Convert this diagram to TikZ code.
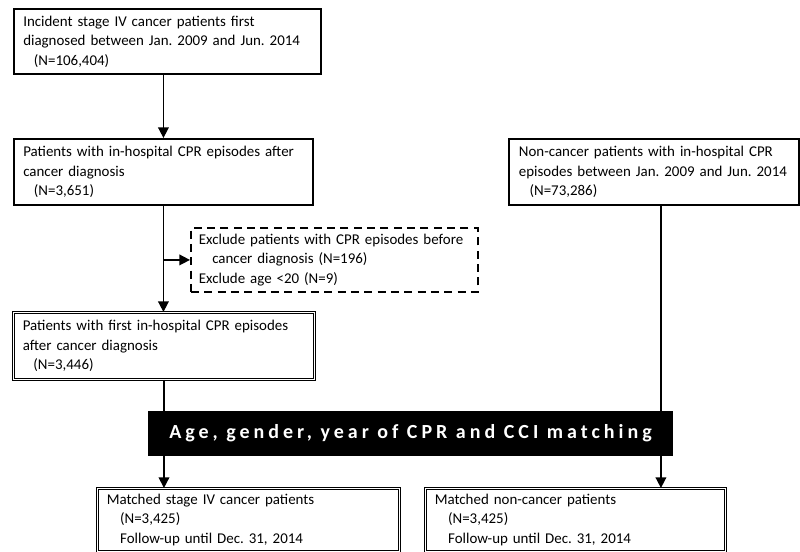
\documentclass[tikz,border=0pt]{standalone}
\usepackage{fontspec}
\setmainfont{Carlito}
\newfontfamily\barfont[LetterSpace=20]{Carlito}
\usetikzlibrary{arrows.meta}
\frenchspacing
\hyphenpenalty=10000
\begin{document}
\begin{tikzpicture}[x=0.75pt, y=-0.75pt, >={Triangle[length=8pt,width=8pt]},
    every node/.style={font=\fontsize{11.2}{14.6}\selectfont},
    box/.style={draw, line width=1.4pt, anchor=north west, align=left, inner xsep=7pt, inner ysep=0pt},
    dbox/.style={box, line width=0.7pt, double, double distance=1.4pt},
    exbox/.style={box, dash pattern=on 6pt off 4pt},
    link/.style={line width=1.2pt}]
  \useasboundingbox (0,0) rectangle (800,552);
  % cancer side
  \node[box, text width=216pt, minimum height=48.75pt] (inc) at (13,8)
    {Incident stage IV cancer patients first\\diagnosed between Jan. 2009 and Jun. 2014\\\hspace*{8pt}(N=106,404)};
  \node[box, text width=210.25pt, minimum height=49.5pt] (cpr) at (13,138)
    {Patients with in-hospital CPR episodes after\\cancer diagnosis\\\hspace*{8pt}(N=3,651)};
  \node[exbox, inner xsep=6pt, text width=203pt, minimum height=48pt] (excl) at (190,227)
    {Exclude patients with CPR episodes before\\\hspace*{10pt}cancer diagnosis (N=196)\\Exclude age {<}20 (N=9)};
  \node[dbox, text width=211.75pt, minimum height=50.25pt] (first) at (13,312)
    {Patients with first in-hospital CPR episodes\\after cancer diagnosis\\\hspace*{8pt}(N=3,446)};
  % non-cancer side
  \node[box, inner xsep=7.5pt, text width=202.5pt, minimum height=49.5pt] (noncan) at (508,138)
    {Non-cancer patients with in-hospital CPR\\episodes between Jan. 2009 and Jun. 2014\\\hspace*{8pt}(N=73,286)};
  % matching
  \node[fill=black, text=white, minimum width=393.75pt, minimum height=33.75pt,
    font=\barfont\bfseries\fontsize{15}{17}\selectfont] (match) at (410.5,433.5)
    {Age, gender, year of CPR and CCI matching};
  \node[dbox, text width=212.5pt, minimum height=47.25pt] (mcan) at (97,488)
    {Matched stage IV cancer patients\\\hspace*{10pt}(N=3,425)\\\hspace*{10pt}Follow-up until Dec. 31, 2014};
  \node[dbox, text width=211pt, minimum height=47.25pt] (mnon) at (425,488)
    {Matched non-cancer patients\\\hspace*{10pt}(N=3,425)\\\hspace*{10pt}Follow-up until Dec. 31, 2014};

  \draw[link,->] (cpr.north |- inc.south) -- (cpr.north);
  \draw[link,->] (cpr.south) -- (cpr.south |- first.north);
  \draw[link,->] (cpr.south |- excl.west) -- (excl.west);
  \draw[link] (first.south) -- (first.south |- match.north);
  \draw[link,->] (first.south |- match.south) -- (first.south |- mcan.north);
  \draw[link] ([xshift=5.25pt]noncan.south) -- ([xshift=5.25pt]noncan.south |- match.north);
  \draw[link,->] ([xshift=5.25pt]noncan.south |- match.south) -- ([xshift=5.25pt]noncan.south |- mnon.north);
\end{tikzpicture}
\end{document}
